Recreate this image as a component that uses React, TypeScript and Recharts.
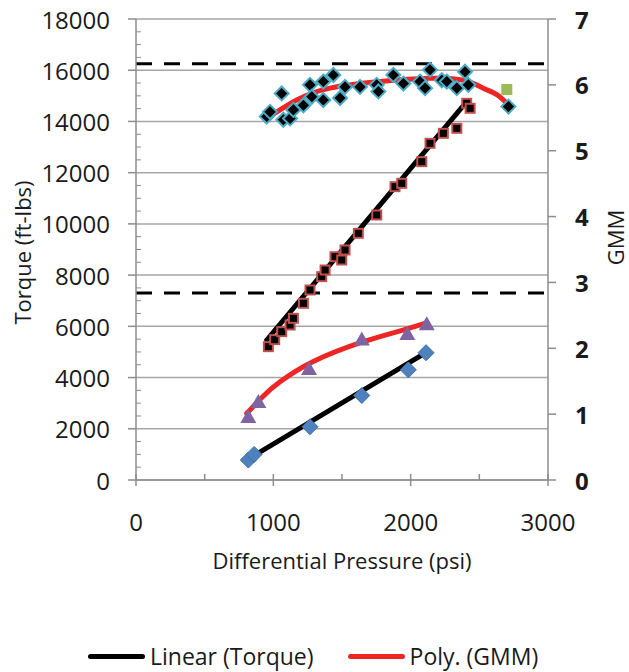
import {
  ComposedChart,
  Scatter,
  Line,
  XAxis,
  YAxis,
  ReferenceLine,
  Legend,
} from "recharts";

// x = differential pressure (psi), y = torque (ft-lbs) or GMM
const torqueHigh = [
  { x: 964, y: 5206 }, { x: 1010, y: 5480 }, { x: 1061, y: 5791 }, { x: 1122, y: 6052 },
  { x: 1146, y: 6313 }, { x: 1219, y: 6900 }, { x: 1267, y: 7419 }, { x: 1352, y: 7939 },
  { x: 1377, y: 8200 }, { x: 1449, y: 8719 }, { x: 1498, y: 8590 }, { x: 1522, y: 8981 },
  { x: 1619, y: 9632 }, { x: 1753, y: 10347 }, { x: 1886, y: 11452 }, { x: 1935, y: 11584 },
  { x: 2081, y: 12429 }, { x: 2141, y: 13147 }, { x: 2238, y: 13537 }, { x: 2336, y: 13732 },
  { x: 2408, y: 14709 }, { x: 2433, y: 14514 },
];

const gmmHigh = [
  { x: 952, y: 5.52 }, { x: 976, y: 5.59 }, { x: 1061, y: 5.87 }, { x: 1073, y: 5.47 },
  { x: 1122, y: 5.49 }, { x: 1146, y: 5.62 }, { x: 1219, y: 5.69 }, { x: 1267, y: 6.0 },
  { x: 1280, y: 5.82 }, { x: 1364, y: 6.05 }, { x: 1364, y: 5.77 }, { x: 1437, y: 6.15 },
  { x: 1486, y: 5.8 }, { x: 1522, y: 5.97 }, { x: 1631, y: 5.97 }, { x: 1753, y: 6.0 },
  { x: 1765, y: 5.9 }, { x: 1874, y: 6.15 }, { x: 1947, y: 6.02 }, { x: 2068, y: 6.05 },
  { x: 2105, y: 5.95 }, { x: 2141, y: 6.23 }, { x: 2227, y: 6.07 }, { x: 2263, y: 6.05 },
  { x: 2336, y: 5.95 }, { x: 2396, y: 6.2 }, { x: 2420, y: 6.0 }, { x: 2712, y: 5.67 },
];

const gmmExtra = [{ x: 2700, y: 5.93 }];

const torqueLow = [
  { x: 818, y: 780 }, { x: 860, y: 1000 }, { x: 1267, y: 2080 }, { x: 1644, y: 3300 },
  { x: 1983, y: 4300 }, { x: 2112, y: 4970 },
];

const gmmLow = [
  { x: 818, y: 0.94 }, { x: 891, y: 1.17 }, { x: 1260, y: 1.67 }, { x: 1644, y: 2.12 },
  { x: 1976, y: 2.2 }, { x: 2117, y: 2.35 },
];

// trend lines
const torqueHighFit = [{ x: 952, y: 5467 }, { x: 2408, y: 14772 }];
const torqueLowFit = [{ x: 806, y: 781 }, { x: 2105, y: 4950 }];
const gmmHighFit = [
  { x: 952, y: 5.49 }, { x: 1170, y: 5.77 }, { x: 1413, y: 5.95 }, { x: 1777, y: 6.05 },
  { x: 2141, y: 6.1 }, { x: 2384, y: 6.07 }, { x: 2529, y: 5.95 }, { x: 2627, y: 5.85 },
  { x: 2700, y: 5.72 },
];
const gmmLowFit = [
  { x: 806, y: 1.01 }, { x: 930, y: 1.28 }, { x: 1049, y: 1.49 }, { x: 1291, y: 1.8 },
  { x: 1656, y: 2.1 }, { x: 1899, y: 2.25 }, { x: 2104, y: 2.38 },
];

const limitLines = [16250, 7300];

const xTicks = [0, 1000, 2000, 3000];
const xMinorTicks = [500, 1500, 2500];
const torqueTicks = [0, 2000, 4000, 6000, 8000, 10000, 12000, 14000, 16000, 18000];
const gmmTicks = [0, 1, 2, 3, 4, 5, 6, 7];

const FONT = "'Open Sans', sans-serif";
const AXIS = "#8c8c8c";
const TEXT = "#1a1a1a";
const TICK_FS = 24;
const LABEL_FS = 22;
const LEGEND_FS = 23;

const torqueMinor: number[] = [];
for (let v = 0; v <= 18000; v += 500) torqueMinor.push(v);

function XTick({ x, y, payload }: any) {
  const major = xTicks.includes(payload.value);
  return (
    <g>
      {major ? (
        <line x1={x} x2={x} y1={y - 6} y2={y + 6} stroke={AXIS} strokeWidth={1.5} />
      ) : (
        <line x1={x} x2={x} y1={y - 6} y2={y} stroke={AXIS} strokeWidth={1.5} />
      )}
      {major && (
        <text x={x} y={y + 41} textAnchor="middle" dominantBaseline="central" fontSize={TICK_FS} fill={TEXT} fontFamily={FONT}>
          {payload.value}
        </text>
      )}
    </g>
  );
}

function TorqueTick({ x, y, payload }: any) {
  const major = torqueTicks.includes(payload.value);
  return (
    <g>
      {major ? (
        <line x1={x - 8} x2={x} y1={y} y2={y} stroke={AXIS} strokeWidth={1.5} />
      ) : (
        <line x1={x} x2={x + 5} y1={y} y2={y} stroke={AXIS} strokeWidth={1} />
      )}
      {major && (
        <text x={x - 26} y={y} textAnchor="end" dominantBaseline="central" fontSize={TICK_FS} fill={TEXT} fontFamily={FONT}>
          {payload.value}
        </text>
      )}
    </g>
  );
}

function GmmTick({ x, y, payload }: any) {
  return (
    <g>
      <line x1={x} x2={x + 8} y1={y} y2={y} stroke={AXIS} strokeWidth={1.5} />
      <text x={x + 27} y={y} textAnchor="start" dominantBaseline="central" fontSize={TICK_FS} fontWeight="bold" fill={TEXT} fontFamily={FONT}>
        {payload.value}
      </text>
    </g>
  );
}

const diamond = (fill: string, stroke: string, r: number, sw: number) => (props: any) => {
  const { cx, cy } = props;
  return (
    <path
      d={`M${cx},${cy - r}L${cx + r},${cy}L${cx},${cy + r}L${cx - r},${cy}Z`}
      fill={fill}
      stroke={stroke}
      strokeWidth={sw}
    />
  );
};

const square = (fill: string, stroke: string, s: number, sw: number) => (props: any) => {
  const { cx, cy } = props;
  return <rect x={cx - s / 2} y={cy - s / 2} width={s} height={s} fill={fill} stroke={stroke} strokeWidth={sw} />;
};

const triangle = (props: any) => {
  const { cx, cy } = props;
  return <path d={`M${cx},${cy - 9}L${cx + 8},${cy + 5}L${cx - 8},${cy + 5}Z`} fill="#8064a2" />;
};

function LegendContent({ payload }: any) {
  const items = (payload || []).filter((p: any) => p.type !== "none" && p.value !== "y");
  return (
    <div style={{ height: 30, position: "relative" }}>
      <div
        style={{
          position: "absolute",
          top: -2,
          left: 88,
          display: "flex",
          alignItems: "center",
          whiteSpace: "nowrap",
          fontFamily: FONT,
          fontSize: LEGEND_FS,
          color: TEXT,
        }}
      >
        {items.map((p: any, i: number) => (
          <div key={i} style={{ display: "flex", alignItems: "center", marginRight: 34 }}>
            <div style={{ width: 57, height: 5, borderRadius: 3, background: p.color, marginRight: 5 }} />
            <span>{p.value}</span>
          </div>
        ))}
      </div>
    </div>
  );
}

export default function App() {
  return (
    <div style={{ position: "absolute", left: 0, top: 0, width: 629, height: 672 }}>
      <ComposedChart width={629} height={672} margin={{ top: 19, right: 0, left: 0, bottom: 0 }}>
        <XAxis
          type="number"
          dataKey="x"
          domain={[0, 3000]}
          ticks={[...xTicks, ...xMinorTicks].sort((a, b) => a - b)}
          interval={0}
          height={162}
          tickSize={0}
          tickMargin={0}
          tickLine={false}
          axisLine={{ stroke: AXIS, strokeWidth: 1.5 }}
          tick={<XTick />}
          allowDataOverflow
          label={{
            content: ({ viewBox }: any) => (
              <text x={viewBox.x + viewBox.width / 2} y={viewBox.y + 80} textAnchor="middle" dominantBaseline="central" fontSize={LABEL_FS} fill={TEXT} fontFamily={FONT}>
                Differential Pressure (psi)
              </text>
            ),
          }}
        />
        <YAxis
          yAxisId="t"
          type="number"
          dataKey="y"
          domain={[0, 18000]}
          ticks={torqueMinor}
          interval={0}
          width={136}
          tickSize={0}
          tickMargin={0}
          tickLine={false}
          axisLine={{ stroke: AXIS, strokeWidth: 1.5 }}
          tick={<TorqueTick />}
          allowDataOverflow
          label={{
            content: ({ viewBox }: any) => {
              const cx = viewBox.x + 22;
              const cy = viewBox.y + viewBox.height / 2 + 3;
              return (
                <text x={cx} y={cy} transform={`rotate(-90 ${cx} ${cy})`} textAnchor="middle" dominantBaseline="central" fontSize={LABEL_FS} fill={TEXT} fontFamily={FONT}>
                  Torque (ft-lbs)
                </text>
              );
            },
          }}
        />
        <YAxis
          yAxisId="g"
          orientation="right"
          type="number"
          dataKey="y"
          domain={[0, 7]}
          ticks={gmmTicks}
          interval={0}
          width={81}
          tickSize={0}
          tickMargin={0}
          tickLine={false}
          axisLine={{ stroke: AXIS, strokeWidth: 1.5 }}
          tick={<GmmTick />}
          allowDataOverflow
          label={{
            content: ({ viewBox }: any) => {
              const cx = viewBox.x + 67;
              const cy = viewBox.y + viewBox.height / 2 - 12;
              return (
                <text x={cx} y={cy} transform={`rotate(-90 ${cx} ${cy})`} textAnchor="middle" dominantBaseline="central" fontSize={LABEL_FS} fill={TEXT} fontFamily={FONT}>
                  GMM
                </text>
              );
            },
          }}
        />

        {torqueTicks.map((v) => (
          <ReferenceLine key={`g${v}`} yAxisId="t" y={v} stroke="#a6a6a6" strokeWidth={1.5} />
        ))}

        <Scatter yAxisId="g" data={gmmHigh} shape={diamond("#000", "#4bacc6", 7, 2)} legendType="none" isAnimationActive={false} />
        <Scatter yAxisId="t" data={torqueHigh} shape={square("#000", "#c0504d", 9, 2)} legendType="none" isAnimationActive={false} />
        <Scatter yAxisId="t" data={torqueLow} shape={diamond("#4f81bd", "#3f6fa8", 8, 1)} legendType="none" isAnimationActive={false} />
        <Scatter yAxisId="g" data={gmmLow} shape={triangle} legendType="none" isAnimationActive={false} />
        <Scatter yAxisId="g" data={gmmExtra} shape={square("#9bbb59", "#9bbb59", 11, 0)} legendType="none" isAnimationActive={false} />

        <Line yAxisId="t" data={torqueHighFit} dataKey="y" name="Linear (Torque)" stroke="#000" strokeWidth={5} strokeLinecap="round" dot={false} type="linear" isAnimationActive={false} />
        <Line yAxisId="g" data={gmmHighFit} dataKey="y" name="Poly. (GMM)" stroke="#ee2525" strokeWidth={5} strokeLinecap="round" dot={false} type="natural" isAnimationActive={false} />
        <Line yAxisId="t" data={torqueLowFit} dataKey="y" stroke="#000" strokeWidth={5} strokeLinecap="round" dot={false} type="linear" legendType="none" isAnimationActive={false} />
        <Line yAxisId="g" data={gmmLowFit} dataKey="y" stroke="#ee2525" strokeWidth={5} strokeLinecap="round" dot={false} type="natural" legendType="none" isAnimationActive={false} />

        {limitLines.map((v) => (
          <ReferenceLine key={`d${v}`} yAxisId="t" y={v} stroke="#000" strokeWidth={3} strokeDasharray="16 12" />
        ))}

        <Legend verticalAlign="bottom" align="left" content={<LegendContent />} />
      </ComposedChart>
    </div>
  );
}
